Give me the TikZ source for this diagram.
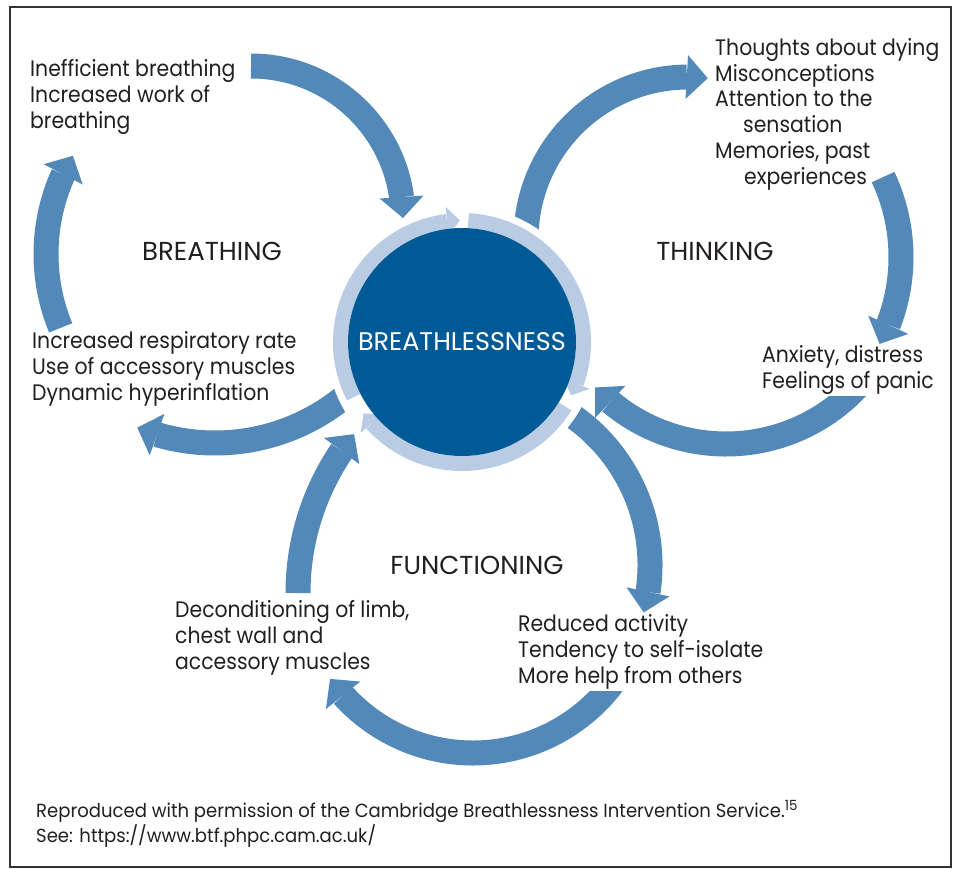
\documentclass[tikz,border=0pt]{standalone}
\usepackage{fontspec}
\setmainfont{Poppins}[FakeStretch=0.91]
\newfontfamily\headfont{Poppins}
\newfontfamily\notefont{Poppins}[FakeStretch=0.95]
\usetikzlibrary{arrows.meta,bending}

\definecolor{hubblue}{RGB}{0,90,150}
\definecolor{loopblue}{RGB}{83,137,184}
\definecolor{ringblue}{RGB}{186,204,228}
\definecolor{inkgray}{RGB}{35,31,32}

\tikzset{
  cyclearrow/.style={draw=loopblue,line width=25pt,
    -{Triangle[length=21pt,width=44pt,line width=0pt]}},
  ringarrow/.style={draw=ringblue,line width=15pt,
    -{Triangle[length=13pt,width=29pt,line width=0pt]}},
  lbl/.style={text=inkgray,font=\fontsize{22.4}{25.7}\selectfont,
    align=left,inner sep=2pt,anchor=base west},
  heading/.style={text=inkgray,font=\headfont\fontsize{26}{30}\selectfont,anchor=base},
}

\begin{document}
\begin{tikzpicture}[x=1pt,y=-1pt]
      \useasboundingbox (0,0) rectangle (957,868);
      \draw[line width=1.5pt,black!80] (10,7) rectangle (951,867);

      %% centres of the arcs
      \coordinate (mid) at (462,342);
      \coordinate (brTop) at (251,218);
      \coordinate (brLeft) at (239,254);
      \coordinate (brOut) at (215,239);
      \coordinate (fnUp) at (551,593);
      \coordinate (fnOut) at (468,565);
      \coordinate (fnBack) at (473,578);
      \coordinate (thOut) at (688,239);
      \coordinate (thDown) at (714,257);
      \coordinate (thIn) at (726,264);

      %% arrows that run under the text boxes
      \draw[cyclearrow] ([shift={(36:175)}]fnBack) arc[start angle=36,end angle=144.8,radius=175];
      \draw[cyclearrow] ([shift={(40:180)}]thIn) arc[start angle=40,end angle=136.7,radius=180];

      %% breathing
      \draw[cyclearrow] ([shift={(-90:152)}]brTop) arc[start angle=-90,end angle=0,radius=152];
      \draw[cyclearrow] ([shift={(157.5:193)}]brLeft) arc[start angle=157.5,end angle=210.6,radius=193];
      \draw[cyclearrow] ([shift={(46:204)}]brOut) arc[start angle=46,end angle=112.4,radius=204];

      %% functioning
      \draw[cyclearrow] ([shift={(180:253)}]fnUp) arc[start angle=180,end angle=218.9,radius=253];

      %% thinking
      \draw[cyclearrow] ([shift={(180:162)}]thOut) arc[start angle=180,end angle=277,radius=162];

      %% (base = last line of each block)
      \node[lbl] (breath) at (28,128) {Inefficient breathing\\Increased work of\\breathing};
      \node[lbl] (resp) at (30,400) {Increased respiratory rate\\Use of accessory muscles\\Dynamic hyperinflation};
      \node[lbl] (thoughts) at (713,184) {Thoughts about dying\\Misconceptions\\Attention to the\\\hspace*{28pt}sensation\\Memories, past\\\hspace*{29pt}experiences};
      \node[lbl,fill=white] (anxiety) at (760,388) {Anxiety, distress\\Feelings of panic};
      \node[lbl] (decond) at (173,669) {Deconditioning of limb,\\chest wall and\\accessory muscles};
      \node[lbl,fill=white] (reduced) at (516,683) {Reduced activity\\Tendency to self-isolate\\More help from others};

      \draw[cyclearrow] ([shift={(-58:182)}]fnOut) arc[start angle=-58,end angle=15.1,radius=182];
      \draw[cyclearrow] ([shift={(-25.3:187)}]thDown) arc[start angle=-25.3,end angle=27.7,radius=187];

      \node[heading] (breathing) at (212,260) {BREATHING};
      \node[heading] (thinking) at (715,260) {THINKING};
      \node[heading] (functioning) at (477,574) {FUNCTIONING};

      %% the ring round the centre
      \fill[white] (mid) circle (136);
      \draw[ringarrow] ([shift={(153:121.5)}]mid) arc[start angle=153,end angle=269,radius=121.5];
      \draw[ringarrow] ([shift={(273:121.5)}]mid) arc[start angle=273,end angle=386,radius=121.5];
      \draw[ringarrow] ([shift={(32:121.5)}]mid) arc[start angle=32,end angle=144,radius=121.5];
      \node[circle,fill=hubblue,minimum size=228pt,inner sep=0pt,text=white,
        font=\headfont\fontsize{25.5}{30}\selectfont] (hub) at (mid) {BREATHLESSNESS};

      \node[anchor=base west,align=left,inner sep=0pt,text=inkgray,
        font={\notefont\fontsize{19}{25}\selectfont}] (credit) at (36,842)
        {Reproduced with permission of the Cambridge Breathlessness Intervention Service.\raisebox{7pt}{\fontsize{14}{14}\selectfont 15}\\See: https://www.btf.phpc.cam.ac.uk/};
\end{tikzpicture}
\end{document}
